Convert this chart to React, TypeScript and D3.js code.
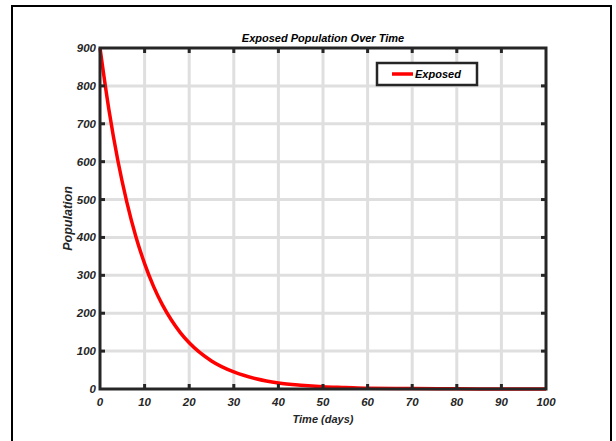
import React, { useRef, useEffect } from 'react'
import * as d3 from 'd3'

// values
const days = [0, 2, 4, 6, 8, 10, 12, 14, 16, 18, 20, 25, 30, 35, 40, 45, 50, 55, 60, 70, 80, 90, 100]
const exposed = [900, 737, 603, 494, 404, 331, 271, 222, 182, 149, 122, 74, 45, 27, 16, 10, 6, 4, 2, 1, 0.4, 0.2, 0.1]
const xTicks = [0, 10, 20, 30, 40, 50, 60, 70, 80, 90, 100]
const yTicks = [0, 100, 200, 300, 400, 500, 600, 700, 800, 900]

const W = 616
const H = 441
const margin = { top: 48, right: 70, bottom: 52, left: 100 }
const font = '"Liberation Sans", Arial, sans-serif'
const ink = '#262626'

const App = () => {
  const svgRef = useRef<SVGSVGElement>(null)

  useEffect(() => {
    const svg = d3.select(svgRef.current)
    svg.selectAll('*').remove()

    const x = d3.scaleLinear().domain([0, 100]).range([margin.left, W - margin.right])
    const y = d3.scaleLinear().domain([0, 900]).range([H - margin.bottom, margin.top])
    const [x0, x1] = x.range()
    const [y0, y1] = y.range()

    // outer frame
    svg.append('rect')
      .attr('x', 12).attr('y', 6).attr('width', 599).attr('height', 460)
      .attr('fill', 'none').attr('stroke', '#000').attr('stroke-width', 2)

    // grid
    const grid = svg.append('g').attr('stroke', '#dfdfdf').attr('stroke-width', 3)
    grid.selectAll('.gx').data(xTicks.slice(1, -1)).join('line')
      .attr('x1', (d) => x(d)).attr('x2', (d) => x(d)).attr('y1', y1).attr('y2', y0)
    grid.selectAll('.gy').data(yTicks.slice(1, -1)).join('line')
      .attr('x1', x0).attr('x2', x1).attr('y1', (d) => y(d)).attr('y2', (d) => y(d))

    // curve
    const line = d3.line<number>()
      .x((d, i) => x(days[i]))
      .y((d) => y(d))
      .curve(d3.curveMonotoneX)
    svg.append('path')
      .datum(exposed)
      .attr('d', line)
      .attr('fill', 'none')
      .attr('stroke', '#ff0000')
      .attr('stroke-width', 3.5)

    // axes box
    svg.append('rect')
      .attr('x', x0).attr('y', y1).attr('width', x1 - x0).attr('height', y0 - y1)
      .attr('fill', 'none').attr('stroke', ink).attr('stroke-width', 3)

    const ticks = svg.append('g').attr('stroke', ink).attr('stroke-width', 3)
    xTicks.slice(1, -1).forEach((t) => {
      ticks.append('line').attr('x1', x(t)).attr('x2', x(t)).attr('y1', y0).attr('y2', y0 - 5)
      ticks.append('line').attr('x1', x(t)).attr('x2', x(t)).attr('y1', y1).attr('y2', y1 + 5)
    })
    yTicks.slice(1, -1).forEach((t) => {
      ticks.append('line').attr('y1', y(t)).attr('y2', y(t)).attr('x1', x0).attr('x2', x0 + 5)
      ticks.append('line').attr('y1', y(t)).attr('y2', y(t)).attr('x1', x1).attr('x2', x1 - 5)
    })

    const txt = svg.append('g')
      .attr('font-family', font).attr('font-weight', 'bold').attr('font-style', 'italic')
      .attr('font-size', 11).attr('fill', ink)

    txt.selectAll('.xl').data(xTicks).join('text')
      .attr('x', (d) => x(d)).attr('y', y0 + 17)
      .attr('font-size', 11.5)
      .attr('text-anchor', 'middle').text((d) => d)
    txt.selectAll('.yl').data(yTicks).join('text')
      .attr('x', x0 - 4).attr('y', (d) => y(d) + 4)
      .attr('font-size', 11.5)
      .attr('text-anchor', 'end').text((d) => d)

    txt.append('text')
      .attr('x', (x0 + x1) / 2).attr('y', y0 + 34)
      .attr('text-anchor', 'middle').text('Time (days)')
    txt.append('text')
      .attr('transform', `translate(${x0 - 28},${(y0 + y1) / 2}) rotate(-90)`)
      .attr('font-size', 12.5)
      .attr('text-anchor', 'middle').text('Population')
    txt.append('text')
      .attr('x', (x0 + x1) / 2).attr('y', y1 - 6)
      .attr('text-anchor', 'middle').attr('fill', '#000').text('Exposed Population Over Time')

    // legend
    const lg = svg.append('g').attr('transform', 'translate(377,63)')
    lg.append('rect').attr('width', 100).attr('height', 22)
      .attr('fill', '#fff').attr('stroke', ink).attr('stroke-width', 2.5)
    lg.append('line').attr('x1', 15).attr('x2', 36).attr('y1', 11).attr('y2', 11)
      .attr('stroke', '#ff0000').attr('stroke-width', 3.5)
    lg.append('text').attr('x', 38).attr('y', 15)
      .attr('font-family', font).attr('font-weight', 'bold').attr('font-style', 'italic')
      .attr('font-size', 11).attr('fill', '#000').text('Exposed')
  }, [])

  return (
    <svg ref={svgRef} width={W} height={H} style={{ position: 'absolute', left: 0, top: 0, background: '#fff' }} />
  )
}

export default App
